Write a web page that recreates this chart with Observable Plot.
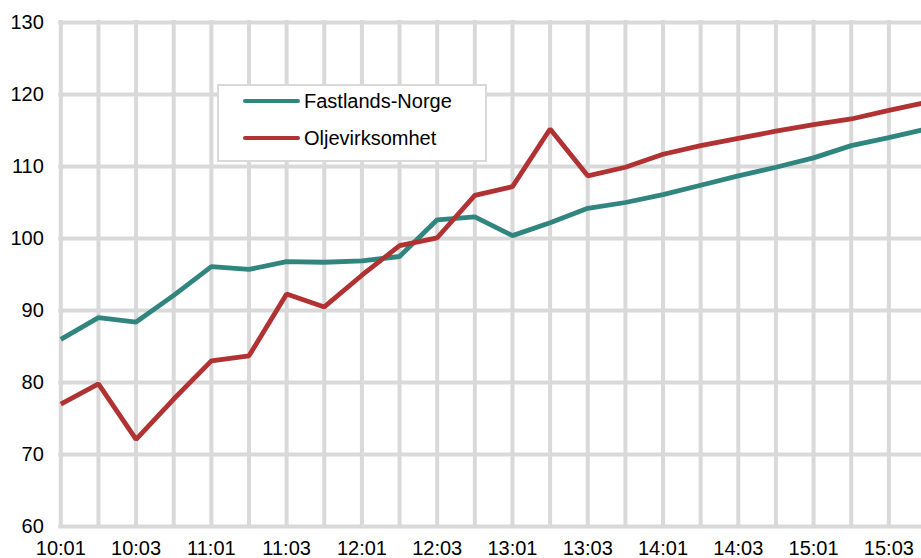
<!DOCTYPE html>
<html>
<head>
<meta charset="utf-8">
<script src="https://cdn.jsdelivr.net/npm/d3@7"></script>
<script src="https://cdn.jsdelivr.net/npm/@observablehq/plot@0.6"></script>
<style>
  html, body { margin: 0; padding: 0; background: #fff; overflow: hidden; }
  #wrap { position: relative; width: 921px; height: 558px; overflow: hidden; font-family: "Liberation Sans", Arial, sans-serif; }
  #legend { position: absolute; left: 217px; top: 84px; width: 266px; height: 74px; border: 2px solid #d9d9d9; background: #fff; }
  .item { position: absolute; left: 0; height: 24px; display: flex; align-items: center; font-size: 20px; color: #000; white-space: nowrap; }
  .swatch { width: 57px; height: 4.5px; border-radius: 2px; margin-left: 24px; margin-right: 4px; }
</style>
</head>
<body>
<div id="wrap"></div>
<script>
const quarters = ["10:01","10:02","10:03","10:04","11:01","11:02","11:03","11:04",
  "12:01","12:02","12:03","12:04","13:01","13:02","13:03","13:04",
  "14:01","14:02","14:03","14:04","15:01","15:02","15:03","15:04"];
const xTickLabels = ["10:01","10:03","11:01","11:03","12:01","12:03","13:01","13:03","14:01","14:03","15:01","15:03"];
const yTicks = [60, 70, 80, 90, 100, 110, 120, 130];
const seriesNames = ["Fastlands-Norge", "Oljevirksomhet"];
const seriesColors = ["#31857f", "#b03232"];
const fastlands = [86.0, 89.0, 88.4, 92.1, 96.1, 95.7, 96.8, 96.7, 96.9, 97.5, 102.6, 103.0,
  100.4, 102.2, 104.2, 105.0, 106.1, 107.4, 108.7, 109.9, 111.2, 112.9, 114.0, 115.2];
const olje = [77.0, 79.8, 72.1, 77.7, 83.0, 83.7, 92.3, 90.5, 94.9, 99.0, 100.1, 106.0,
  107.2, 115.2, 108.7, 109.9, 111.7, 112.9, 113.9, 114.9, 115.8, 116.6, 117.8, 118.9];

const data = [
  ...quarters.map((q, i) => ({q, v: fastlands[i], s: seriesNames[0]})),
  ...quarters.map((q, i) => ({q, v: olje[i], s: seriesNames[1]}))
];

const chart = Plot.plot({
  width: 921,
  height: 558,
  marginLeft: 60.3,
  marginRight: 0,
  marginTop: 22,
  marginBottom: 32,
  style: {fontFamily: '"Liberation Sans", Arial, sans-serif', fontSize: "20px", color: "#000", background: "#fff"},
  x: {type: "point", domain: quarters, range: [60.3, 926], padding: 0, round: false},
  y: {domain: [60, 130], range: [526, 22]},
  color: {domain: seriesNames, range: seriesColors},
  marks: [
    Plot.gridY(yTicks, {stroke: "#d9d9d9", strokeOpacity: 1, strokeWidth: 4, strokeLinecap: "square"}),
    Plot.gridX(quarters, {stroke: "#d9d9d9", strokeOpacity: 1, strokeWidth: 4, strokeLinecap: "square"}),
    Plot.axisY(yTicks, {tickSize: 0, tickPadding: 17, label: null, fill: "#000"}),
    Plot.axisX(xTickLabels, {tickSize: 0, tickPadding: 14, label: null, fill: "#000"}),
    Plot.line(data, {x: "q", y: "v", z: "s", stroke: "s", strokeWidth: 4.8, strokeLinejoin: "miter", strokeLinecap: "butt"})
  ]
});
const wrap = document.getElementById("wrap");
wrap.appendChild(chart);

const legend = document.createElement("div");
legend.id = "legend";
seriesNames.forEach((name, i) => {
  const item = document.createElement("div");
  item.className = "item";
  item.style.top = (i === 0 ? 3 : 40) + "px";
  const sw = document.createElement("div");
  sw.className = "swatch";
  sw.style.background = seriesColors[i];
  const t = document.createElement("span");
  t.textContent = name;
  item.appendChild(sw);
  item.appendChild(t);
  legend.appendChild(item);
});
wrap.appendChild(legend);
</script>
</body>
</html>
